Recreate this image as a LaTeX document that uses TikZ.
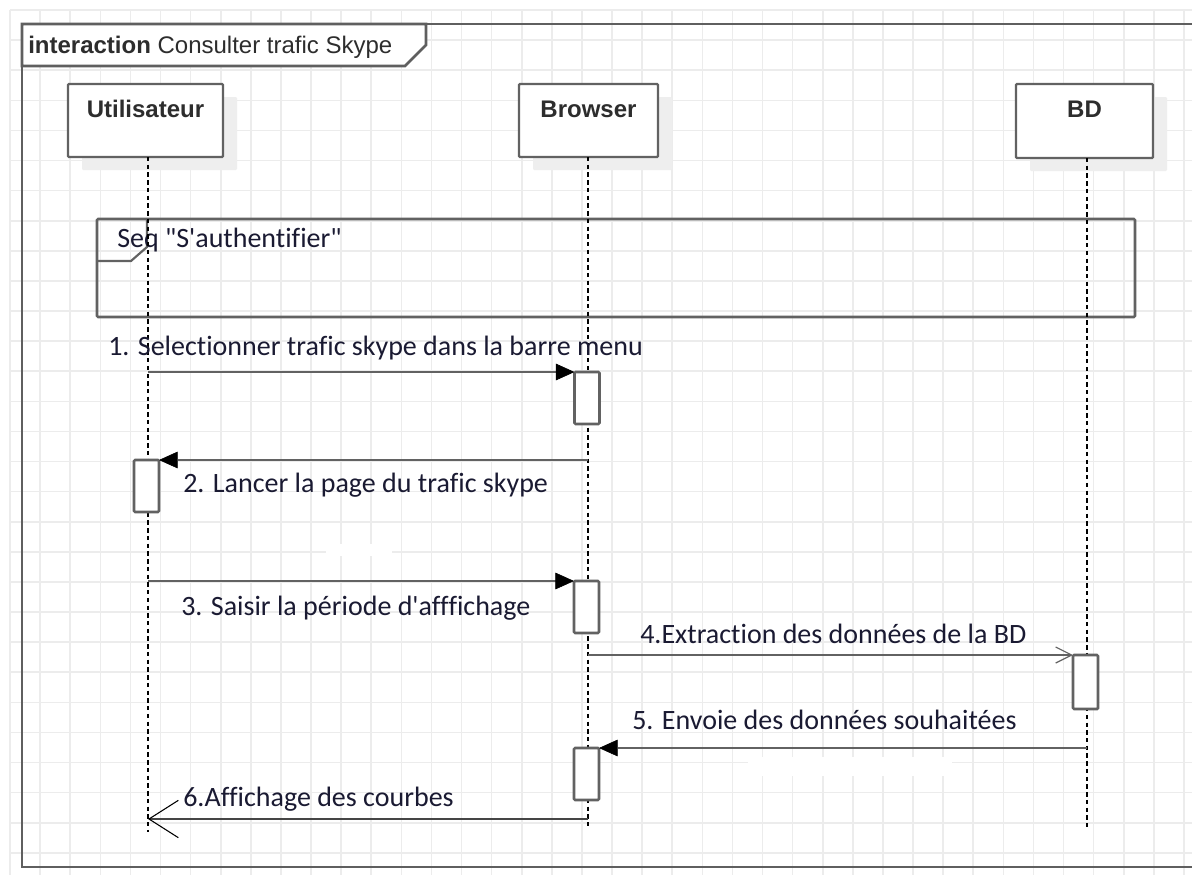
\documentclass[tikz,border=0pt]{standalone}
\usepackage{fontspec}
\newfontfamily\calibf{Carlito}[Ligatures={NoCommon}]
\newfontfamily\arialf{Liberation Sans}
\usetikzlibrary{arrows.meta,shadows}
\definecolor{gridc}{RGB}{236,236,236}
\definecolor{pen}{RGB}{98,98,98}
\definecolor{framepen}{RGB}{95,95,95}
\definecolor{shadowc}{RGB}{238,238,238}
\definecolor{txt}{RGB}{26,26,50}
\definecolor{titletxt}{RGB}{45,45,45}
\begin{document}
\begin{tikzpicture}[x=0.75pt,y=-0.75pt,
  gridline/.style={draw=gridc, line width=1.2pt},
  frameline/.style={draw=framepen, line width=2pt},
  headbox/.style={draw=pen, fill=white, line width=1.7pt, rounded corners=0.8pt,
    minimum width=116pt, minimum height=55pt, inner sep=0pt, outer sep=0pt,
    general shadow={fill=shadowc, shadow xshift=10.5pt, shadow yshift=-9.75pt}},
  headlabel/.style={font=\arialf\bfseries\fontsize{18}{20}\selectfont, text=titletxt, anchor=base, inner sep=0pt},
  lifeline/.style={draw=black, line width=1.15pt, dash pattern=on 3.3pt off 2.5pt},
  fragbox/.style={draw=pen, line width=1.9pt, rounded corners=0.8pt, minimum width=778.5pt, minimum height=73.5pt, inner sep=0pt, outer sep=0pt},
  actbox/.style={draw=pen, fill=white, line width=1.9pt, rounded corners=0.8pt, minimum width=18.75pt, minimum height=39pt, inner sep=0pt, outer sep=0pt},
  msgline/.style={draw=pen, line width=1.9pt},
  synch/.style={msgline, -{Triangle[length=14pt,width=12.5pt,line width=0.5pt,color=black]}},
  asynch/.style={msgline, -{Straight Barb[length=12pt,width=12pt,line width=0.9pt]}},
  replyarr/.style={draw=pen!70!black, line width=1.4pt, -{Straight Barb[length=22pt,width=28pt,line width=0.8pt,color=black]}},
  msglabel/.style={font=\calibf\fontsize{21}{24}\selectfont, text=txt, anchor=base west, inner sep=0pt},
  titlelabel/.style={font=\arialf\fontsize{18}{20}\selectfont, text=titletxt, anchor=base west, inner sep=0pt}
]
\useasboundingbox (0,0) rectangle (1192,875);
\fill[white] (0,0) rectangle (1192,875);
% grid
\foreach \i in {0,...,39} \draw[gridline] ({10+30.1*\i},10) -- ({10+30.1*\i},875);
\foreach \j in {0,...,28} \draw[gridline] (10,{10+30.1*\j}) -- (1192,{10+30.1*\j});
% erased patches of the grid
\fill[white] (326,544) rectangle (392,556);
\fill[white] (748,757) rectangle (952,776);
% frame
\draw[frameline] (1192,24) -- (22,24) -- (22,867) -- (1192,867);
\filldraw[frameline, fill=white] (22,24) -- (426,24) -- (426,45) -- (405,66) -- (22,66) -- cycle;
\node[titlelabel] (title) at (28,53) {\textbf{interaction} Consulter trafic Skype};
% lifeline heads
\node[headbox, minimum width=116.25pt, minimum height=54.75pt] (u) at (145.5,120.5) {};
\node[headbox, minimum width=104.25pt, minimum height=54.75pt] (b) at (588.5,120.5) {};
\node[headbox, minimum width=102.75pt, minimum height=55.5pt] (d) at (1084.5,121) {};
\node[headlabel] (ul) at (145.5,117) {Utilisateur};
\node[headlabel] (bl) at (588.5,117) {Browser};
\node[headlabel] (dl) at (1084.5,117) {BD};
% fragment
\node[fragbox] (seq) at (616,268) {};
\draw[draw=pen, line width=1.6pt] (seq.north west) ++(50,0) -- ++(0,28) -- ++(-16,14) -- ++(-34,0);
\node[msglabel] (seql) at (117,247) {Seq "S'authentifier"};
% lifeline ends
\coordinate (ue) at (148,832);
\coordinate (be) at (588,828);
\coordinate (de) at (1087,830);
\draw[lifeline] (ue |- u.south) -- (ue);
\draw[lifeline] (be |- b.south) -- (be);
\draw[lifeline] (de |- d.south) -- (de);
% activations
\node[actbox] (a1) at (587,398) {};
\node[actbox] (a2) at (146.5,486) {};
\node[actbox] (a3) at (586.5,607) {};
\node[actbox, minimum height=40.5pt] (a4) at (1085.5,682) {};
\node[actbox] (a5) at (586.5,774) {};
% message start points
\coordinate (s1) at (148,372);
\coordinate (s2) at (588,460);
\coordinate (s3) at (148,581);
\coordinate (s4) at (588,655);
\coordinate (s5) at (1087,748);
\coordinate (s6) at (588,819);
\coordinate (e6) at (148,819);
\draw[synch] (s1) -- (a1.north west);
\draw[synch] (s2) -- (a2.north east);
\draw[synch] (s3) -- (a3.north west);
\draw[asynch] (s4) -- (a4.north west);
\draw[synch] (s5) -- (a5.north east);
\draw[replyarr] (s6) -- (e6);
% labels
\node[msglabel] (l1) at (108,355) {1. Selectionner trafic skype dans la barre menu};
\node[msglabel] (l2) at (183,492) {2. Lancer la page du trafic skype};
\node[msglabel] (l3) at (181,615) {3. Saisir la période d'afffichage};
\node[msglabel] (l4) at (640,643) {4.Extraction des données de la BD};
\node[msglabel] (l5) at (632,729) {5. Envoie des données souhaitées};
\node[msglabel] (l6) at (183,806) {6.Affichage des courbes};
\end{tikzpicture}
\end{document}
